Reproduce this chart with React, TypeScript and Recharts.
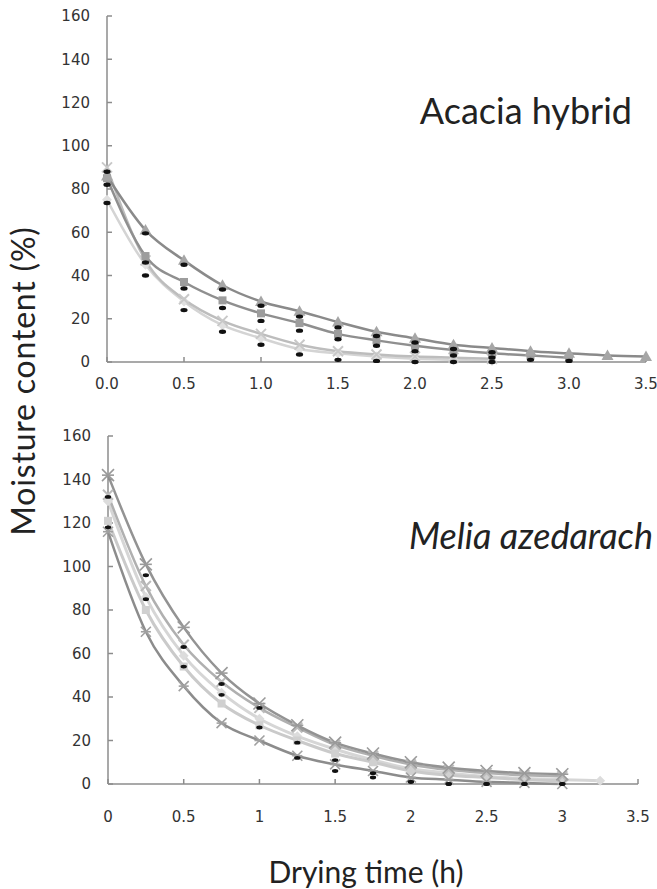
import React from 'react';
import { LineChart, Line, XAxis, YAxis } from 'recharts';

// drying time (h)
const acaciaTime = [0, 0.25, 0.5, 0.75, 1, 1.25, 1.5, 1.75, 2, 2.25, 2.5, 2.75, 3, 3.25, 3.5];
const meliaTime = [0, 0.25, 0.5, 0.75, 1, 1.25, 1.5, 1.75, 2, 2.25, 2.5, 2.75, 3, 3.25];

// Acacia hybrid moisture content (%)
const acaciaTriangle = [86, 61, 47, 35.5, 28, 23.5, 18.5, 14, 11, 8, 6.5, 5, 4, 3, 2.5];
const acaciaSquare = [85, 49, 37, 28.5, 22.5, 18, 13, 10, 7.5, 5.5, 4, 3, 2];
const acaciaStar = [90, 47, 29, 19, 13, 8, 5, 3.5, 2.5, 2, 1.5];
const acaciaDiamond = [75, 45, 28, 17, 11, 6, 4, 2.5, 1.5, 1, 0.5];
const acaciaDotA = [88, 59.5, 45, 33.5, 26, 21, 16, 12, 9, 6, 4.5];
const acaciaDotB = [82, 46, 34, 25, 19, 14.5, 10.5, 7.5, 5, 3, 2, 1, 0.5];
const acaciaDotC = [73.5, 40, 24, 14, 8, 3.5, 1, 0.5, 0, 0, 0];

// Melia azedarach moisture content (%)
const meliaStar = [142, 101, 72, 51, 37, 27, 19, 14, 10, 7.5, 6, 5, 4.5];
const meliaCross = [133, 91, 64, 47, 35, 26, 18, 13, 9, 6.5, 5, 4, 3.5];
const meliaDiamond = [130, 86, 59, 42, 30, 22, 16, 11, 7, 5, 3.5, 2.5, 2, 1.5];
const meliaSquare = [121, 80, 54, 37, 27, 20, 14, 10, 6, 4, 3, 2, 1.5];
const meliaAsterisk = [116, 70, 45, 28, 20, 13, 9, 6, 3, 2, 1, 0.5, 0];
const meliaDotA = [132, 96, 63, 46, 35, 19, 11, 5, 1, 0, 0, 0, 0];
const meliaDotB = [118, 85, 54, 41, 26, 12, 6, 3, 1, 0, 0, 0, 0];

const xTicks = [0, 0.5, 1, 1.5, 2, 2.5, 3, 3.5];
const yTicks = [0, 20, 40, 60, 80, 100, 120, 140, 160];

const toPoints = (time: number[], values: number[]) =>
  values.map((v, i) => ({ t: time[i], mc: v }));

type Marker = 'triangle' | 'square' | 'star' | 'diamond' | 'cross' | 'asterisk' | 'blob';

const makeDot = (marker: Marker, fill: string, size: number) => (props: any) => {
  const { cx, cy, index } = props;
  if (cx == null || cy == null) return <g key={index} />;
  const s = size;
  switch (marker) {
    case 'triangle':
      return <polygon key={index} points={`${cx},${cy - s} ${cx + s},${cy + s * 0.75} ${cx - s},${cy + s * 0.75}`} fill={fill} />;
    case 'square':
      return <rect key={index} x={cx - s * 0.8} y={cy - s * 0.8} width={s * 1.6} height={s * 1.6} fill={fill} />;
    case 'diamond':
      return <polygon key={index} points={`${cx},${cy - s} ${cx + s},${cy} ${cx},${cy + s} ${cx - s},${cy}`} fill={fill} />;
    case 'star': {
      const pts: string[] = [];
      for (let k = 0; k < 10; k++) {
        const r = k % 2 === 0 ? s : s * 0.45;
        const a = -Math.PI / 2 + (k * Math.PI) / 5;
        pts.push(`${cx + r * Math.cos(a)},${cy + r * Math.sin(a)}`);
      }
      return <polygon key={index} points={pts.join(' ')} fill={fill} />;
    }
    case 'cross':
      return (
        <g key={index} stroke={fill} strokeWidth={2}>
          <line x1={cx - s} y1={cy - s} x2={cx + s} y2={cy + s} />
          <line x1={cx - s} y1={cy + s} x2={cx + s} y2={cy - s} />
        </g>
      );
    case 'asterisk':
      return (
        <g key={index} stroke={fill} strokeWidth={1.6}>
          <line x1={cx - s} y1={cy - s} x2={cx + s} y2={cy + s} />
          <line x1={cx - s} y1={cy + s} x2={cx + s} y2={cy - s} />
          <line x1={cx - s} y1={cy} x2={cx + s} y2={cy} />
        </g>
      );
    default:
      return <ellipse key={index} cx={cx} cy={cy} rx={s * 0.9} ry={s * 0.55} fill={fill} />;
  }
};

interface Series {
  name: string;
  points: { t: number; mc: number }[];
  stroke: string;
  width: number;
  marker: Marker;
  markerFill: string;
  size: number;
}

const acaciaSeries: Series[] = [
  { name: 'diamond', points: toPoints(acaciaTime, acaciaDiamond), stroke: '#d4d4d4', width: 2.5, marker: 'diamond', markerFill: '#e0e0e0', size: 5 },
  { name: 'star', points: toPoints(acaciaTime, acaciaStar), stroke: '#bdbdbd', width: 2.5, marker: 'cross', markerFill: '#c8c8c8', size: 5 },
  { name: 'square', points: toPoints(acaciaTime, acaciaSquare), stroke: '#8f8f8f', width: 2.5, marker: 'square', markerFill: '#9d9d9d', size: 5 },
  { name: 'triangle', points: toPoints(acaciaTime, acaciaTriangle), stroke: '#8a8a8a', width: 2.5, marker: 'triangle', markerFill: '#a6a6a6', size: 6 },
  { name: 'dotA', points: toPoints(acaciaTime, acaciaDotA), stroke: 'none', width: 0, marker: 'blob', markerFill: '#111', size: 4 },
  { name: 'dotB', points: toPoints(acaciaTime, acaciaDotB), stroke: 'none', width: 0, marker: 'blob', markerFill: '#111', size: 4 },
  { name: 'dotC', points: toPoints(acaciaTime, acaciaDotC), stroke: 'none', width: 0, marker: 'blob', markerFill: '#111', size: 4 },
];

const meliaSeries: Series[] = [
  { name: 'diamond', points: toPoints(meliaTime, meliaDiamond), stroke: '#d6d6d6', width: 3, marker: 'diamond', markerFill: '#dcdcdc', size: 5 },
  { name: 'square', points: toPoints(meliaTime, meliaSquare), stroke: '#cacaca', width: 3, marker: 'square', markerFill: '#d0d0d0', size: 5 },
  { name: 'cross', points: toPoints(meliaTime, meliaCross), stroke: '#b0b0b0', width: 2.5, marker: 'cross', markerFill: '#bbbbbb', size: 5 },
  { name: 'star', points: toPoints(meliaTime, meliaStar), stroke: '#939393', width: 2.5, marker: 'asterisk', markerFill: '#9a9a9a', size: 6 },
  { name: 'asterisk', points: toPoints(meliaTime, meliaAsterisk), stroke: '#8c8c8c', width: 2.5, marker: 'asterisk', markerFill: '#a0a0a0', size: 5 },
  { name: 'dotA', points: toPoints(meliaTime, meliaDotA), stroke: 'none', width: 0, marker: 'blob', markerFill: '#111', size: 3.5 },
  { name: 'dotB', points: toPoints(meliaTime, meliaDotB), stroke: 'none', width: 0, marker: 'blob', markerFill: '#111', size: 3.5 },
];

const tickStyle = { fontFamily: '"DejaVu Sans", sans-serif', fontSize: 15, fill: '#333' };
const axisColor = '#8c8c8c';
const titleFont = 'Lato, "Open Sans", sans-serif';

const Panel: React.FC<{
  series: Series[];
  height: number;
  margin: { top: number; right: number; left: number; bottom: number };
  xMargin: number;
  fixed: boolean;
}> = ({ series, height, margin, xMargin, fixed }) => (
  <LineChart width={657} height={height} margin={margin}>
    <XAxis
      type="number"
      dataKey="t"
      domain={[0, 3.5]}
      ticks={xTicks}
      allowDuplicatedCategory={false}
      tickFormatter={(v: number) => (fixed ? v.toFixed(1) : String(v))}
      tick={tickStyle}
      tickSize={-5}
      tickMargin={xMargin}
      height={30}
      stroke={axisColor}
      strokeWidth={1.5}
    />
    <YAxis
      type="number"
      domain={[0, 160]}
      ticks={yTicks}
      tick={tickStyle}
      tickSize={-5}
      tickMargin={22}
      width={50}
      stroke={axisColor}
      strokeWidth={1.5}
    />
    {series.map((s) => (
      <Line
        key={s.name}
        data={s.points}
        dataKey="mc"
        type="monotone"
        stroke={s.stroke}
        strokeWidth={s.width}
        dot={makeDot(s.marker, s.markerFill, s.size)}
        activeDot={false}
        isAnimationActive={false}
      />
    ))}
  </LineChart>
);

export default function App() {
  return (
    <div style={{ position: 'absolute', left: 0, top: 0, width: 657, height: 889, background: '#fff' }}>
      <div style={{ position: 'absolute', left: 0, top: 0 }}>
        <Panel series={acaciaSeries} height={400} margin={{ top: 16, right: 11, left: 57, bottom: 8 }} xMargin={21} fixed />
      </div>
      <div style={{ position: 'absolute', left: 0, top: 400 }}>
        <Panel series={meliaSeries} height={440} margin={{ top: 36, right: 19, left: 58, bottom: 26 }} xMargin={32} fixed={false} />
      </div>
      <svg width={657} height={889} style={{ position: 'absolute', left: 0, top: 0, pointerEvents: 'none' }}>
        <text x={632} y={124} textAnchor="end" fontFamily={titleFont} fontSize={36} fill="#222">
          Acacia hybrid
        </text>
        <text x={653} y={549} textAnchor="end" fontFamily={titleFont} fontSize={36} fontStyle="italic" fill="#222">
          Melia azedarach
        </text>
        <text x={366} y={883} textAnchor="middle" fontFamily={titleFont} fontSize={30} fill="#222">
          Drying time (h)
        </text>
        <text
          x={0}
          y={0}
          textAnchor="middle"
          fontFamily={titleFont}
          fontSize={32}
          letterSpacing={0.8}
          fill="#222"
          transform="translate(35, 381) rotate(-90)"
        >
          Moisture content (%)
        </text>
      </svg>
    </div>
  );
}
